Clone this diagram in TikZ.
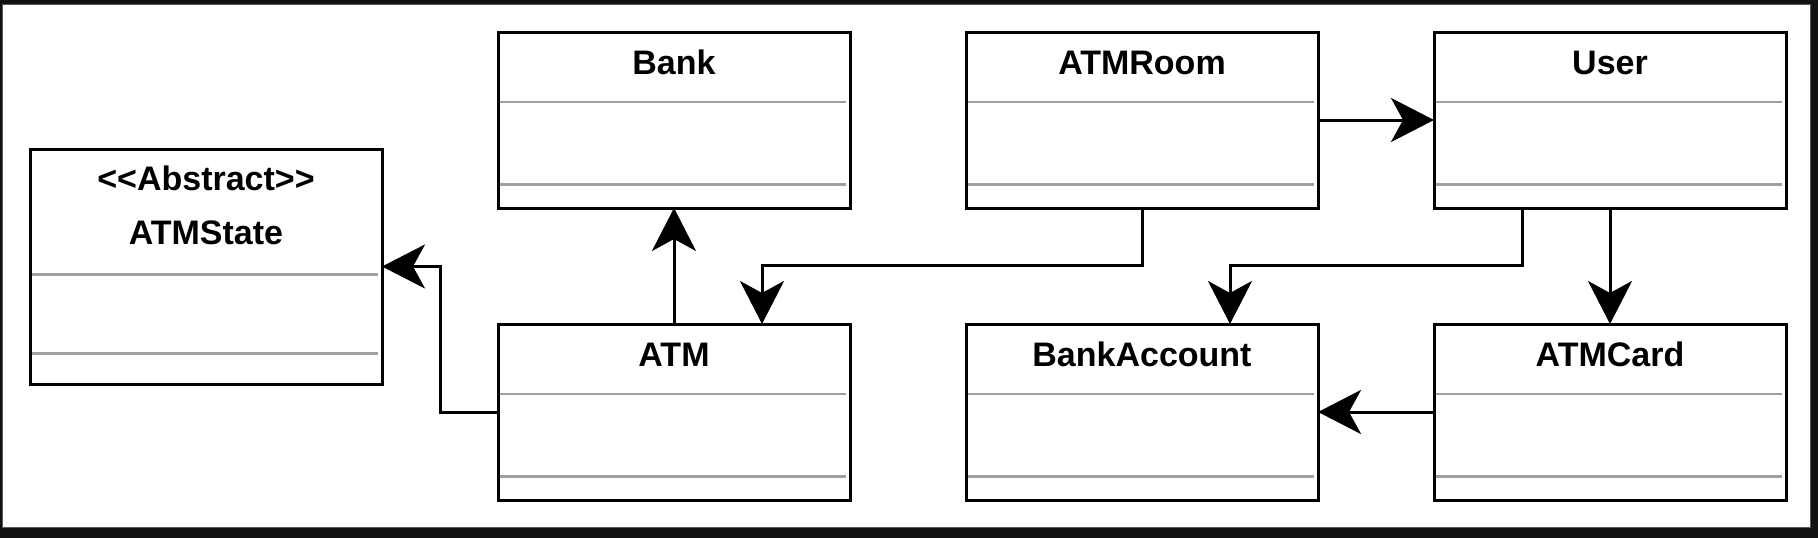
\documentclass[tikz,border=0pt]{standalone}
\usepackage{fontspec}
\newfontfamily\tf{Liberation Sans}[Ligatures=TeXOff]
\usetikzlibrary{arrows.meta,calc}
\definecolor{sepgray}{HTML}{A0A0A0}
\definecolor{bgdark}{HTML}{121214}
\definecolor{framegray}{HTML}{5A5A5A}
\begin{document}
\begin{tikzpicture}[x=1pt,y=-1pt,
  cls/.style={draw=black, line width=3pt, fill=white, minimum width=352pt, minimum height=176pt, inner sep=0pt, outer sep=0pt},
  ttl/.style={font=\tf\bfseries\fontsize{34}{40}\selectfont, inner sep=0pt, anchor=base},
  sep/.style={draw=sepgray, line width=2.6pt},
  conn/.style={line width=3pt, -{Stealth[length=43pt,width=44pt,inset=12pt]}}]
% background and frame
\fill[bgdark] (0,0) rectangle (1818,538);
\draw[framegray, fill=white, line width=1pt] (2.7,4.7) rectangle (1810,527.3);
\useasboundingbox (0,0) rectangle (1818,538);
% class boxes
\node[cls, minimum height=235pt] (atmstate) at (206,266.5) {};
\node[cls] (bank) at (674,120) {};
\node[cls] (atmroom) at (1142,120) {};
\node[cls] (user) at (1610,120) {};
\node[cls] (atm) at (674,412) {};
\node[cls] (bankaccount) at (1142,412) {};
\node[cls] (atmcard) at (1610,412) {};
% separators
\foreach \n in {bank,atmroom,user,atm,bankaccount,atmcard}{
  \draw[sep] ($(\n.north west)+(1.5,70)$) -- ($(\n.north east)+(-4,70)$);
  \draw[sep] ($(\n.south west)+(1.5,-23.5)$) -- ($(\n.south east)+(-4,-23.5)$);
}
\draw[sep] ($(atmstate.north west)+(1.5,125.5)$) -- ($(atmstate.north east)+(-4,125.5)$);
\draw[sep] ($(atmstate.south west)+(1.5,-30.5)$) -- ($(atmstate.south east)+(-4,-30.5)$);
% titles
\node[ttl] (atmstateT1) at ($(atmstate.north)+(0,41.5)$) {<<Abstract>>};
\node[ttl] (atmstateT2) at ($(atmstate.north)+(0,95.3)$) {ATMState};
\node[ttl] (bankT) at ($(bank.north)+(0,42.5)$) {Bank};
\node[ttl] (atmroomT) at ($(atmroom.north)+(0,42.5)$) {ATMRoom};
\node[ttl] (userT) at ($(user.north)+(0,42.5)$) {User};
\node[ttl] (atmT) at ($(atm.north)+(0,42.5)$) {ATM};
\node[ttl] (bankaccountT) at ($(bankaccount.north)+(0,42.5)$) {BankAccount};
\node[ttl] (atmcardT) at ($(atmcard.north)+(0,42.5)$) {ATMCard};
% connector points
\coordinate (atmIn) at ($(atm.north west)!0.75!(atm.north east)$);
\coordinate (userOut) at ($(user.south west)!0.25!(user.south east)$);
\coordinate (baIn) at ($(bankaccount.north west)!0.75!(bankaccount.north east)$);
% connectors
\draw[conn] (atmroom.east) -- (user.west);
\draw[conn] (atmroom.south) -- ++(0,57) -| (atmIn);
\draw[conn] (atm.north) -- (bank.south);
\draw[conn] (atm.west) -- ++(-58,0) |- (atmstate.east);
\draw[conn] (userOut) -- ++(0,57) -| (baIn);
\draw[conn] (user.south) -- (atmcard.north);
\draw[conn] (atmcard.west) -- (bankaccount.east);
\end{tikzpicture}
\end{document}
